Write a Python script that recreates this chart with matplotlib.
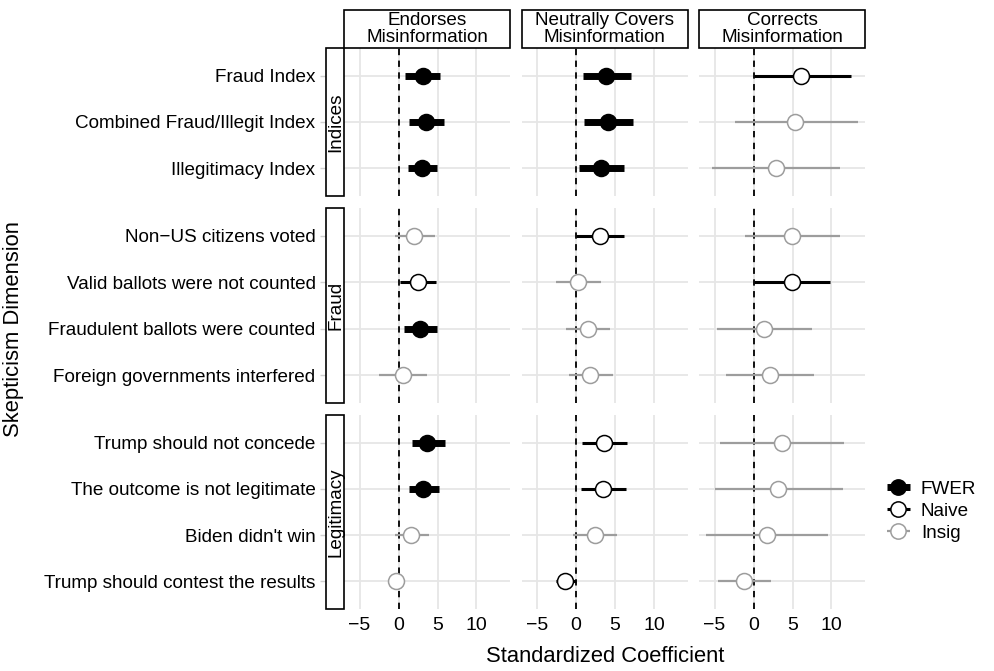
import numpy as np
import matplotlib
matplotlib.use("Agg")
import matplotlib.pyplot as plt
from matplotlib.patches import Rectangle
from matplotlib.lines import Line2D

plt.rcParams['font.family'] = ['Liberation Sans', 'DejaVu Sans']

# ---------- datos ----------
items = ["Fraud Index", "Combined Fraud/Illegit Index", "Illegitimacy Index",
         "Non\u2212US citizens voted", "Valid ballots were not counted",
         "Fraudulent ballots were counted", "Foreign governments interfered",
         "Trump should not concede", "The outcome is not legitimate",
         "Biden didn't win", "Trump should contest the results"]
groups = ["Indices"] * 3 + ["Fraud"] * 4 + ["Legitimacy"] * 4
group_order = ["Indices", "Fraud", "Legitimacy"]
columns = ["Endorses\nMisinformation", "Neutrally Covers\nMisinformation",
           "Corrects\nMisinformation"]

endorse_est = [3.1, 3.55, 3.0, 2.0, 2.45, 2.8, 0.55, 3.7, 3.2, 1.6, -0.3]
endorse_lo = [0.85, 1.35, 1.15, -0.4, 0.2, 0.75, -2.45, 1.7, 1.3, -0.5, -1.2]
endorse_hi = [5.35, 5.85, 4.9, 4.7, 4.8, 4.9, 3.7, 6.0, 5.2, 3.95, 0.7]
endorse_sig = ["FWER", "FWER", "FWER", "Insig", "Naive", "FWER", "Insig",
               "FWER", "FWER", "Insig", "Insig"]

neutral_est = [3.9, 4.1, 3.2, 3.05, 0.3, 1.5, 1.8, 3.6, 3.5, 2.45, -1.4]
neutral_lo = [0.85, 1.05, 0.35, 0.0, -2.55, -1.3, -0.95, 0.75, 0.65, -0.35, -2.55]
neutral_hi = [7.0, 7.35, 6.15, 6.15, 3.25, 4.35, 4.75, 6.6, 6.4, 5.3, 0.0]
neutral_sig = ["FWER", "FWER", "FWER", "Naive", "Insig", "Insig", "Insig",
               "Naive", "Naive", "Insig", "Naive"]

correct_est = [6.15, 5.3, 2.85, 4.95, 4.9, 1.35, 2.1, 3.6, 3.2, 1.7, -1.2]
correct_lo = [0.0, -2.4, -5.3, -1.05, 0.0, -4.65, -3.5, -4.25, -4.95, -6.15, -4.55]
correct_hi = [12.45, 13.4, 11.1, 11.1, 9.75, 7.45, 7.75, 11.55, 11.45, 9.55, 2.25]
correct_sig = ["Naive", "Insig", "Insig", "Insig", "Naive", "Insig", "Insig",
               "Insig", "Insig", "Insig", "Insig"]

col_data = [(endorse_est, endorse_lo, endorse_hi, endorse_sig),
            (neutral_est, neutral_lo, neutral_hi, neutral_sig),
            (correct_est, correct_lo, correct_hi, correct_sig)]

x_ticks = [-5, 0, 5, 10]

# estilos por nivel de significancia
styles = {
    "FWER": dict(lc="black", lw=5.0, face="black", edge="black"),
    "Naive": dict(lc="black", lw=2.2, face="white", edge="black"),
    "Insig": dict(lc="#9d9d9d", lw=1.6, face="white", edge="#9d9d9d"),
}

# ---------- figura ----------
W, H = 994, 671
fig = plt.figure(figsize=(W / 100, H / 100), dpi=100)

col_x = [344, 521.5, 699]
col_w = 166
row_y = [(48, 196), (208, 403), (415, 609)]


def fx(px):
    return px / W


def fy(py):
    return 1 - py / H


grid_c = "#e6e6e6"

for r, g in enumerate(group_order):
    idx = [i for i, gg in enumerate(groups) if gg == g]
    n = len(idx)
    top, bot = row_y[r]
    for c in range(3):
        est, lo, hi, sig = col_data[c]
        ax = fig.add_axes([fx(col_x[c]), fy(bot), fx(col_w), (bot - top) / H])
        ax.set_xlim(-7.0, 14.3)
        ax.set_ylim(n - 0.4, -0.6)
        for s in ax.spines.values():
            s.set_visible(False)
        ax.set_xticks(x_ticks)
        ax.set_yticks(range(n))
        ax.grid(True, color=grid_c, lw=1.3)
        ax.set_axisbelow(True)
        ax.axvline(0, color="black", ls=(0, (3.5, 3)), lw=1.3, zorder=2)
        for k, i in enumerate(idx):
            st = styles[sig[i]]
            ax.plot([lo[i], hi[i]], [k, k], color=st["lc"], lw=st["lw"],
                    solid_capstyle="butt", zorder=3)
            ax.plot(est[i], k, "o", ms=11.5, mfc=st["face"], mec=st["edge"],
                    mew=1.1, zorder=4)
        if c == 0:
            ax.set_yticklabels([items[i] for i in idx], fontsize=13.6)
            ax.tick_params(axis="y", length=17, width=1, color="#d0d0d0", pad=3.5)
        else:
            ax.tick_params(axis="y", length=0, labelleft=False)
        if r == 2:
            ax.set_xticklabels(["\u22125", "0", "5", "10"], fontsize=14)
            ax.tick_params(axis="x", length=0, pad=6)
        else:
            ax.tick_params(axis="x", length=0, labelbottom=False)

    # tira de fila (izquierda)
    fig.patches.append(Rectangle((fx(326), fy(bot)), fx(18), (bot - top) / H,
                                 transform=fig.transFigure, facecolor="white",
                                 edgecolor="black", lw=1.2, zorder=5))
    fig.text(fx(335.5), fy((top + bot) / 2), g, rotation=90, ha="center",
             va="center", fontsize=13.6, zorder=6)

# tiras de columna (arriba)
for c in range(3):
    fig.patches.append(Rectangle((fx(col_x[c]), fy(48)), fx(col_w), 38 / H,
                                 transform=fig.transFigure, facecolor="white",
                                 edgecolor="black", lw=1.2, zorder=5))
    fig.text(fx(col_x[c] + col_w / 2), fy(29), columns[c], ha="center",
             va="center", fontsize=13.6, linespacing=1.05, zorder=6)

# títulos de ejes
fig.text(fx(605), fy(657), "Standardized Coefficient", ha="center",
         va="center", fontsize=15.8)
fig.text(fx(14), fy(329), "Skepticism Dimension", rotation=90, ha="center",
         va="center", fontsize=15.8)

# leyenda
handles = [Line2D([0], [0], color=styles[k]["lc"], lw=styles[k]["lw"],
                  marker="o", ms=11, mfc=styles[k]["face"], mec=styles[k]["edge"],
                  mew=1.1, solid_capstyle="butt")
           for k in ["FWER", "Naive", "Insig"]]
fig.legend(handles, ["FWER", "Naive", "Insig"], loc="center left",
           bbox_to_anchor=(fx(870), fy(511)), frameon=False, fontsize=13.6,
           handlelength=1.2, handletextpad=0.6, labelspacing=0.25)

fig.savefig("out.png", dpi=100)
